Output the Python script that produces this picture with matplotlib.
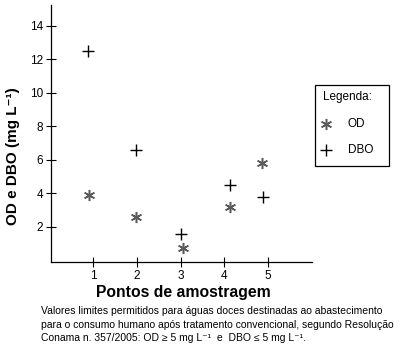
import matplotlib.pyplot as plt
from matplotlib.lines import Line2D
from matplotlib.patches import Rectangle

# sampling points and measured values (mg/L)
pontos_od = [0.91, 1.98, 3.06, 4.13, 4.86]
od = [3.9, 2.6, 0.75, 3.2, 5.8]
pontos_dbo = [0.88, 1.98, 3.02, 4.12, 4.89]
dbo = [12.5, 6.6, 1.6, 4.5, 3.8]
x_ticks = [1, 2, 3, 4, 5]
y_ticks = [2, 4, 6, 8, 10, 12, 14]

plt.rcParams['font.family'] = ['Liberation Sans', 'DejaVu Sans']

W, H = 402, 351
fig = plt.figure(figsize=(W/100, H/100), dpi=100)
ax = fig.add_axes([51/W, 1-262/H, 261/W, 257/H])

od_style = dict(linestyle='none', marker=(6, 2, 0), markersize=8,
                markeredgewidth=1.1, color='#5a5a5a')
dbo_style = dict(linestyle='none', marker='+', markersize=8,
                 markeredgewidth=1.0, color='black')

ax.plot(pontos_od, od, **od_style)
ax.plot(pontos_dbo, dbo, **dbo_style)

ax.set_xlim(0.04, 6.0)
ax.set_ylim(-0.09, 15.25)
ax.set_xticks(x_ticks)
ax.set_yticks(y_ticks)
ax.tick_params(direction='inout', length=7, width=0.8, labelsize=8.5, pad=2)
ax.spines['top'].set_visible(False)
ax.spines['right'].set_visible(False)
for s in ['left', 'bottom']:
    ax.spines[s].set_linewidth(0.9)

fig.text(13/W, 1-156/H, 'OD e DBO (mg L\u207b\u00b9)', rotation=90,
         fontsize=11, fontweight='bold', ha='center', va='center')
fig.text(183/W, 1-293/H, 'Pontos de amostragem', fontsize=11.3,
         fontweight='bold', ha='center', va='center')

# legend box drawn by hand
fig.add_artist(Rectangle((315/W, 1-166/H), 74/W, 81/H, transform=fig.transFigure,
                         fill=False, edgecolor='black', linewidth=0.9))
fig.text(323/W, 1-97/H, 'Legenda:', fontsize=8.5, va='center', ha='left')
fig.add_artist(Line2D([326/W], [1-124/H], transform=fig.transFigure, **od_style))
fig.text(348/W, 1-124/H, 'OD', fontsize=8.5, va='center', ha='left')
fig.add_artist(Line2D([326/W], [1-150/H], transform=fig.transFigure, **dbo_style))
fig.text(348/W, 1-150/H, 'DBO', fontsize=8.5, va='center', ha='left')

fig.text(41/W, 1-306/H,
         'Valores limites permitidos para águas doces destinadas ao abastecimento\n'
         'para o consumo humano após tratamento convencional, segundo Resolução\n'
         'Conama n. 357/2005: OD \u2265 5 mg L\u207b\u00b9  e  DBO \u2264 5 mg L\u207b\u00b9.',
         fontsize=7.5, va='top', ha='left', linespacing=1.45)

fig.savefig('out.png', dpi=100)
